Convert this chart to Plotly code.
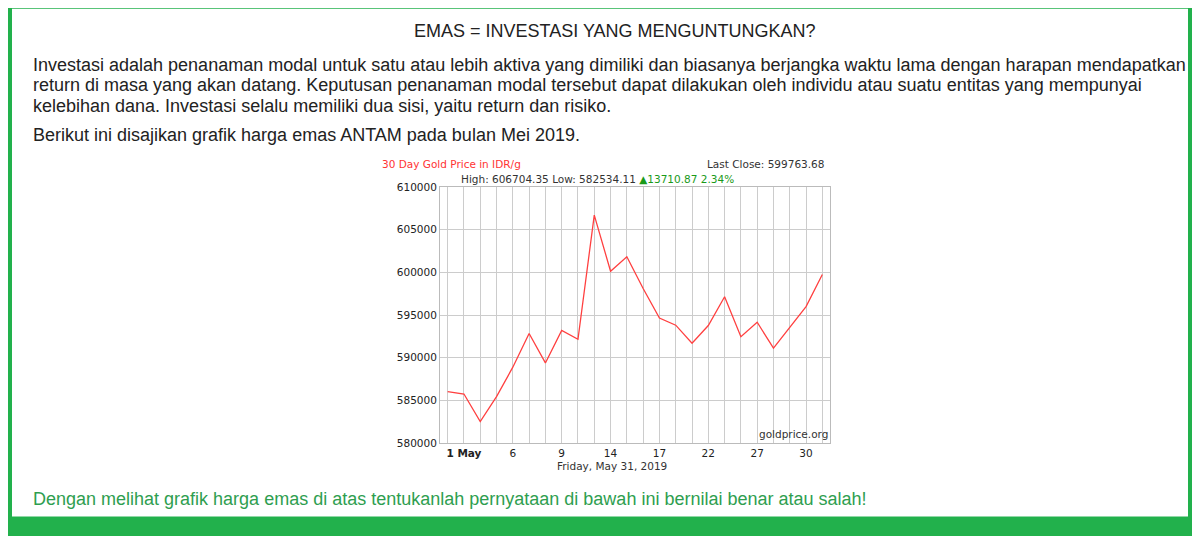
import plotly.graph_objects as go

day_idx = list(range(24))
price = [586030, 585760, 582534, 585450, 588900, 592850, 589400, 593200,
         592160, 606704, 600140, 601830, 598110, 594660, 593820, 591700,
         593780, 597150, 592470, 594160, 591130, 593620, 596000, 599764]
tick_labels = {1: "<b>1 May</b>", 4: "6", 7: "9", 10: "14", 13: "17",
               16: "22", 19: "27", 22: "30"}
y_ticks = [580000, 585000, 590000, 595000, 600000, 605000, 610000]

paragraph = [
    "Investasi adalah penanaman modal untuk satu atau lebih aktiva yang dimiliki dan biasanya berjangka waktu lama dengan harapan mendapatkan",
    "return di masa yang akan datang. Keputusan penanaman modal tersebut dapat dilakukan oleh individu atau suatu entitas yang mempunyai",
    "kelebihan dana. Investasi selalu memiliki dua sisi, yaitu return dan risiko.",
]

W, H = 1200, 536
OFF = 8  # page body margin
GREEN = "#22b14c"

fig = go.Figure(go.Scatter(x=day_idx, y=price, mode="lines",
                           line=dict(color="#ff4040", width=1.3),
                           hoverinfo="skip"))

fig.add_shape(type="rect", xref="paper", yref="paper",
              x0=(12 - OFF) / W, x1=(1188 - OFF) / W, y0=1 - (522 - OFF) / H, y1=1.01,
              fillcolor="white", line_width=0, layer="below")

def txt(x, y, s, size=18, color="#222", anchor="left", family="Liberation Sans, Arial"):
    fig.add_annotation(x=(x - OFF) / W, y=1 - (y - OFF) / H, xref="paper", yref="paper", text=s,
                       showarrow=False, xanchor=anchor, yanchor="middle",
                       font=dict(size=size, color=color, family=family))

txt(615, 25, "EMAS = INVESTASI YANG MENGUNTUNGKAN?", anchor="center")
for i, line in enumerate(paragraph):
    txt(31, 60 + i * 21, line)
txt(31, 132, "Berikut ini disajikan grafik harga emas ANTAM pada bulan Mei 2019.")
txt(31, 504, "Dengan melihat grafik harga emas di atas tentukanlah pernyataan di bawah ini bernilai benar atau salah!",
    color="#2e9e4f")

V = "DejaVu Sans, Verdana"
txt(380, 161, "30 Day Gold Price in IDR/g", size=10.5, color="#ff3333", family=V)
txt(826, 161, "Last Close: 599763.68", size=10.5, color="#333", anchor="right", family=V)
txt(459, 177, "High: 606704.35 Low: 582534.11 <span style='color:#1a9a1a'>▲13710.87 2.34%</span>",
    size=10.5, color="#333", family=V)
txt(612, 470, "Friday, May 31, 2019", size=10.5, color="#333", anchor="center", family=V)
txt(830, 438, "goldprice.org", size=10.5, color="#333", anchor="right", family=V)

fig.update_layout(
    width=W, height=H, margin=dict(l=0, r=0, t=0, b=0),
    paper_bgcolor=GREEN, plot_bgcolor="white", showlegend=False,
    xaxis=dict(domain=[(440 - OFF) / W, (830 - OFF) / W], range=[-0.47, 23.47],
               tickvals=day_idx, ticktext=[tick_labels.get(i, "") for i in day_idx],
               showgrid=True, gridcolor="#cccccc", zeroline=False,
               showline=True, linecolor="#bbbbbb", mirror=True, ticks="",
               tickfont=dict(size=10.5, family=V, color="#222")),
    yaxis=dict(domain=[1 - (447 - OFF) / H, 1 - (185 - OFF) / H], range=[580000, 610000],
               tickvals=y_ticks, tickformat="d",
               showgrid=True, gridcolor="#cccccc", zeroline=False,
               showline=True, linecolor="#bbbbbb", mirror=True, ticks="",
               tickfont=dict(size=10.5, family=V, color="#222")),
)

fig.write_html("out.html")
